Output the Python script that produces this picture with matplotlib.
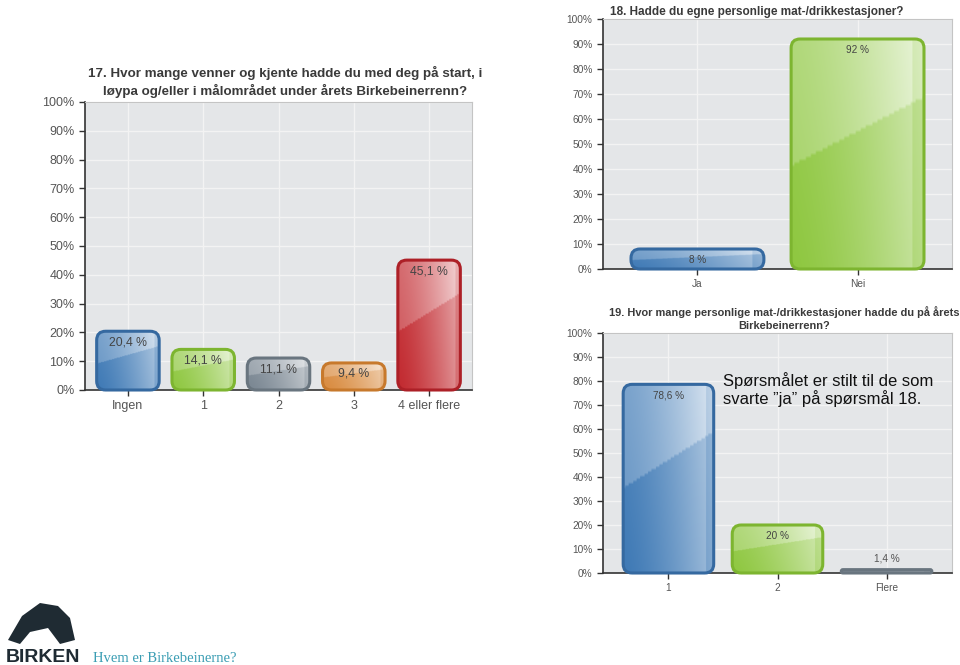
import numpy as np
import matplotlib
matplotlib.use('Agg')
import matplotlib.pyplot as plt
from matplotlib.patches import FancyBboxPatch, Polygon
from matplotlib.colors import to_rgb

plt.rcParams['font.family'] = ['Liberation Sans', 'DejaVu Sans']

W, H = 960, 665

# data
q17_title = ('17. Hvor mange venner og kjente hadde du med deg på start, i\n'
             'løypa og/eller i målområdet under årets Birkebeinerrenn?')
q17_labels = ['Ingen', '1', '2', '3', '4 eller flere']
q17_values = [20.4, 14.1, 11.1, 9.4, 45.1]

q18_title = '18. Hadde du egne personlige mat-/drikkestasjoner?'
q18_labels = ['Ja', 'Nei']
q18_values = [8, 92]

q19_title = ('19. Hvor mange personlige mat-/drikkestasjoner hadde du på årets\n'
             'Birkebeinerrenn?')
q19_labels = ['1', '2', 'Flere']
q19_values = [78.6, 20, 1.4]

note = 'Spørsmålet er stilt til de som\nsvarte ”ja” på spørsmål 18.'

# bar colours (fill, border)
BLUE = ('#3b77b4', '#3569a0')
GREEN = ('#8cc63c', '#7db530')
GREY = ('#76838f', '#69757f')
ORANGE = ('#d8883a', '#c7792c')
RED = ('#c1262c', '#ad2027')


def px_axes(fig, left, top, right, bottom):
    '''add axes given pixel box (top-left origin)'''
    return fig.add_axes([left / W, 1 - bottom / H, (right - left) / W, (bottom - top) / H])


def bar_image(color, n=80):
    rgb = np.array(to_rgb(color))
    xf = np.linspace(0, 1, n)[None, :]
    yf = np.linspace(0, 1, n)[:, None]
    light = 0.02 + 0.5 * xf ** 1.4
    light = np.where(xf > 0.92, light - 0.15, light)
    gloss = yf > 0.45 + 0.3 * xf
    light = light + 0.2 * gloss + 0.1 * yf
    light = np.clip(light, 0, 0.85)
    return rgb * (1 - light[..., None]) + light[..., None]


def chart(ax, labels, values, colors, margin, fs_tick, fs_val, width=0.83):
    n = len(labels)
    x = np.arange(n)
    ax.set_facecolor('#e4e6e8')
    ax.set_xlim(-margin, n - 1 + margin)
    ax.set_ylim(0, 100)
    ax.set_yticks(range(0, 101, 10))
    ax.set_yticklabels([f'{t}%' for t in range(0, 101, 10)])
    ax.set_xticks(x)
    ax.set_xticklabels(labels)
    ax.tick_params(axis='y', labelsize=fs_tick, colors='#333', labelcolor='#555', length=4, width=1)
    ax.tick_params(axis='x', labelsize=fs_tick, colors='#333', labelcolor='#555', length=4, width=1)
    ax.grid(color='#f3f3f3', lw=1)
    ax.set_axisbelow(True)
    for s in ['left', 'bottom']:
        ax.spines[s].set_color('#333')
        ax.spines[s].set_linewidth(1.2)
    for s in ['top', 'right']:
        ax.spines[s].set_color('#c4c4c4')

    # pixel scales for rounding the corners
    bb = ax.get_position()
    wpx, hpx = bb.width * W, bb.height * H
    xpp = (n - 1 + 2 * margin) / wpx
    ypp = 100 / hpx
    asp = ypp / xpp

    bars = ax.bar(x, values, width=width, color='none', edgecolor='none')
    for bar, v, (fc, ec) in zip(bars, values, colors):
        x0, w, h = bar.get_x(), bar.get_width(), bar.get_height()
        r = min(9 * xpp, (h / 2) / asp)
        patch = FancyBboxPatch((x0, 0), w, h, boxstyle=f'round,pad=0,rounding_size={r}',
                               mutation_aspect=asp, fc='none', ec=ec, lw=2.2, zorder=3,
                               clip_on=False)
        ax.add_patch(patch)
        im = ax.imshow(bar_image(fc), extent=[x0, x0 + w, 0, h], aspect='auto',
                       origin='lower', zorder=2, interpolation='bilinear')
        im.set_clip_path(patch)
        lab = f'{v:g} %'.replace('.', ',')
        if h / ypp > 12:
            ax.annotate(lab, (bar.get_x() + w / 2, h), xytext=(0, -11),
                        textcoords='offset pixels', ha='center', va='center',
                        fontsize=fs_val, color='#444', zorder=4)
        else:
            ax.annotate(lab, (bar.get_x() + w / 2, h), xytext=(0, 11),
                        textcoords='offset pixels', ha='center', va='center',
                        fontsize=fs_val, color='#555', zorder=4)
    ax.set_xlim(-margin, n - 1 + margin)
    ax.set_ylim(0, 100)


fig = plt.figure(figsize=(W / 100, H / 100), dpi=100)

ax17 = px_axes(fig, 85, 102, 472, 390)
chart(ax17, q17_labels, q17_values, [BLUE, GREEN, GREY, ORANGE, RED], 0.57, 9, 8.8)
ax17.set_title(q17_title, fontsize=9.6, fontweight='bold', color='#3a3a3a', pad=5,
               linespacing=1.35, x=0.517)

ax18 = px_axes(fig, 603, 19, 952, 269)
chart(ax18, q18_labels, q18_values, [BLUE, GREEN], 0.59, 7.3, 7.2)
ax18.set_title(q18_title, fontsize=8.5, fontweight='bold', color='#3a3a3a', pad=3,
               loc='left', x=0.02)

ax19 = px_axes(fig, 603, 333, 952, 573)
chart(ax19, q19_labels, q19_values, [BLUE, GREEN, GREY], 0.6, 7.3, 7.2)
ax19.set_title(q19_title, fontsize=7.9, fontweight='bold', color='#3a3a3a', pad=3,
               x=0.52, linespacing=1.3)

fig.text(723 / W, 1 - 372 / H, note, fontsize=12, color='#111', ha='left', va='top',
         linespacing=1.05)

# footer: rough logo silhouette, wordmark and slide title
logo = Polygon([[8 / W, 1 - 640 / H], [22 / W, 1 - 616 / H], [40 / W, 1 - 603 / H],
                [58 / W, 1 - 606 / H], [70 / W, 1 - 618 / H], [75 / W, 1 - 640 / H],
                [60 / W, 1 - 644 / H], [48 / W, 1 - 628 / H], [30 / W, 1 - 632 / H],
                [20 / W, 1 - 644 / H]], closed=True, transform=fig.transFigure,
               fc='#1f2b33', ec='none')
fig.patches.append(logo)
fig.text(6 / W, 1 - 657 / H, 'BIRKEN', fontsize=14, fontweight='bold', color='#1f2b33',
         ha='left', va='center')
fig.text(93 / W, 1 - 659 / H, 'Hvem er Birkebeinerne?', fontsize=10.5, color='#3a9db3',
         family='Liberation Serif', ha='left', va='center')

fig.savefig('out.png', dpi=100)
